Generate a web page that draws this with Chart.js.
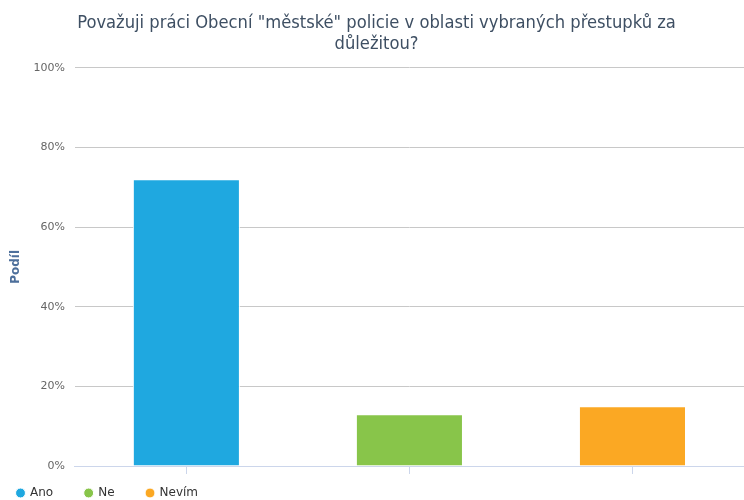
<!DOCTYPE html>
<html>
<head>
<meta charset="utf-8">
<script src="https://cdn.jsdelivr.net/npm/chart.js@4"></script>
<style>
  html, body { margin: 0; padding: 0; background: #fff; }
  #wrap { width: 744px; height: 500px; }
</style>
</head>
<body>
<div id="wrap"><canvas id="chart"></canvas></div>
<script>
const categories = ['Ano', 'Ne', 'Nevím'];
const shares = [72, 13, 15];
const barColors = ['#1fa8e0', '#88c54a', '#fba823'];
const yTicks = [0, 20, 40, 60, 80, 100];

const fontFamily = 'DejaVu Sans';

// legend sits tight under the axis, items spaced wide like the original
const legendPlacement = {
    id: 'legendPlacement',
    beforeInit(chart) {
        const origFit = chart.legend.fit;
        chart.legend.fit = function () {
            origFit.call(this);
            this.height = 26;
        };
    },
    afterLayout(chart) {
        chart.legend.left -= 24;
        chart.legend.top -= 19;
    }
};

const ctx = document.getElementById('chart').getContext('2d');
const chart = new Chart(ctx, {
    type: 'bar',
    data: {
        labels: categories,
        datasets: categories.map((name, i) => ({
            label: name,
            data: categories.map((c, j) => (j === i ? shares[i] : null)),
            backgroundColor: barColors[i],
            borderColor: '#ffffff',
            borderWidth: 1,
            skipNull: true,
            grouped: false,
            barPercentage: 0.96,
            categoryPercentage: 0.5
        }))
    },
    options: {
        responsive: true,
        maintainAspectRatio: false,
        animation: false,
        layout: {
            padding: { left: 9, right: 0, top: 0, bottom: 0 }
        },
        scales: {
            y: {
                min: 0,
                max: 100,
                afterBuildTicks: axis => {
                    axis.ticks = yTicks.map(v => ({ value: v }));
                },
                ticks: {
                    color: '#666666',
                    font: { family: fontFamily, size: 11 },
                    padding: 10,
                    callback: v => v + '%'
                },
                grid: {
                    color: '#c8c8c8',
                    drawTicks: false
                },
                border: { display: false },
                title: {
                    display: true,
                    text: 'Podíl',
                    color: '#4d6f9b',
                    font: { family: fontFamily, size: 12, weight: 'bold' },
                    padding: { top: 0, bottom: 0 }
                }
            },
            x: {
                grid: {
                    display: true,
                    drawOnChartArea: false,
                    offset: false,
                    color: '#ccd6eb',
                    tickLength: 8
                },
                border: { color: '#ccd6eb' },
                ticks: {
                    display: false
                }
            }
        },
        plugins: {
            title: {
                display: true,
                text: ['Považuji práci Obecní "městské" policie v oblasti vybraných přestupků za', 'důležitou?'],
                color: '#3e4f63',
                font: { family: 'DejaVu Sans Condensed', size: 18.2, weight: 'normal', lineHeight: 1.2 },
                padding: { top: 12, bottom: 12 }
            },
            legend: {
                display: true,
                position: 'bottom',
                align: 'start',
                labels: {
                    color: '#333333',
                    font: { family: fontFamily, size: 12 },
                    usePointStyle: true,
                    pointStyle: 'circle',
                    boxWidth: 7,
                    boxHeight: 7,
                    padding: 32
                }
            },
            tooltip: { enabled: false }
        }
    },
    plugins: [legendPlacement]
});
</script>
</body>
</html>
